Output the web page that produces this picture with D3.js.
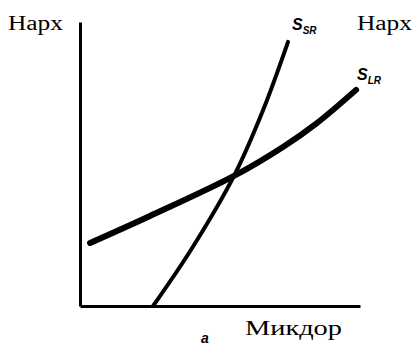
<!DOCTYPE html>
<html>
<head>
<meta charset="utf-8">
<script src="https://cdn.jsdelivr.net/npm/d3@7"></script>
<style>
  html, body { margin: 0; padding: 0; background: #fff; }
  svg { display: block; }
  .lbl { font-family: "Liberation Serif", "Times New Roman", serif; fill: #000; }
  .sym { font-family: "Liberation Sans", Arial, sans-serif; font-weight: bold; font-style: italic; fill: #000; }
</style>
</head>
<body>
<svg id="chart" width="419" height="346"></svg>
<script>
// Short-run supply curve (quantity, price)
const shortRunQ = [2.61, 3.96, 5.50, 6.54, 7.43];
const shortRunP = [0.00, 1.97, 4.58, 6.90, 9.30];

// Long-run supply curve (quantity, price)
const longRunQ = [0.36, 2.50, 5.50, 7.25, 8.46, 9.86];
const longRunP = [2.22, 3.17, 4.58, 5.60, 6.44, 7.61];

const priceLabel = "Нарх";
const quantityLabel = "Микдор";
const panelLabel = "a";

const svg = d3.select("#chart");

const x = d3.scaleLinear().domain([0, 10]).range([80, 360]);
const y = d3.scaleLinear().domain([0, 10]).range([306, 22]);

// Axes without ticks: plain thick lines
const xAxis = svg.append("g").attr("transform", `translate(0,${y(0)})`)
  .call(d3.axisBottom(x).tickValues([]).tickSizeOuter(0));
const yAxis = svg.append("g").attr("transform", `translate(${x(0)},0)`)
  .call(d3.axisLeft(y).tickValues([]).tickSizeOuter(0));
[xAxis, yAxis].forEach(g => g.select(".domain")
  .attr("stroke", "#000").attr("stroke-width", 3));

const line = d3.line()
  .x(d => x(d[0]))
  .y(d => y(d[1]))
  .curve(d3.curveCatmullRom.alpha(0.5));

const srPts = shortRunQ.map((q, i) => [q, shortRunP[i]]);
const lrPts = longRunQ.map((q, i) => [q, longRunP[i]]);

svg.append("path").datum(srPts).attr("d", line)
  .attr("fill", "none").attr("stroke", "#000")
  .attr("stroke-width", 4).attr("stroke-linecap", "round");

svg.append("path").datum(lrPts).attr("d", line)
  .attr("fill", "none").attr("stroke", "#000")
  .attr("stroke-width", 6).attr("stroke-linecap", "round");

// Axis titles
svg.append("text").attr("class", "lbl")
  .attr("x", 8).attr("y", 30).attr("font-size", 20)
  .attr("textLength", 55).attr("lengthAdjust", "spacingAndGlyphs")
  .text(priceLabel);
svg.append("text").attr("class", "lbl")
  .attr("x", 357).attr("y", 30).attr("font-size", 20)
  .attr("textLength", 55).attr("lengthAdjust", "spacingAndGlyphs")
  .text(priceLabel);
svg.append("text").attr("class", "lbl")
  .attr("x", 245).attr("y", 335).attr("font-size", 21)
  .attr("textLength", 97).attr("lengthAdjust", "spacingAndGlyphs")
  .text(quantityLabel);

// Curve symbols with subscripts
function curveLabel(px, py, sub) {
  const t = svg.append("text").attr("class", "sym")
    .attr("x", px).attr("y", py).attr("font-size", 16);
  t.append("tspan").text("S");
  t.append("tspan").attr("font-size", 10).attr("dy", 4).text(sub);
}
curveLabel(292, 30, "SR");
curveLabel(357, 80, "LR");

svg.append("text").attr("class", "sym")
  .attr("x", 201).attr("y", 343).attr("font-size", 14)
  .text(panelLabel);
</script>
</body>
</html>
